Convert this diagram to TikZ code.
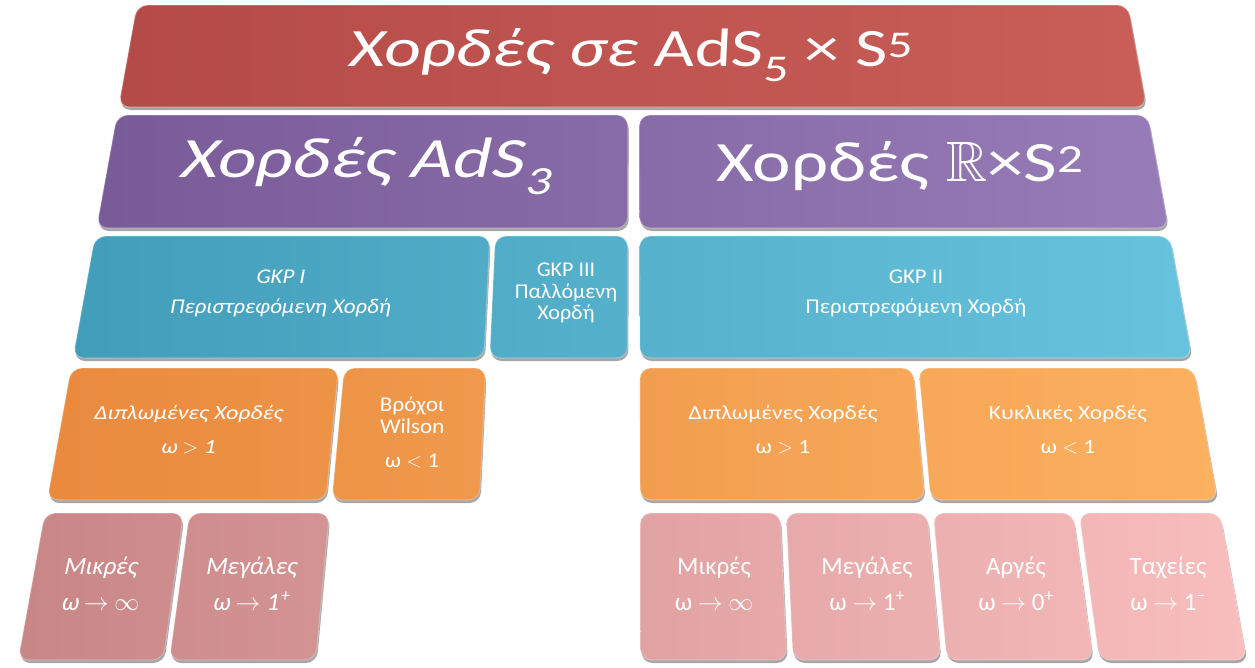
\documentclass[tikz,border=0pt]{standalone}
\usepackage{fontspec}
\usepackage{amssymb}
\setmainfont{Carlito}
\usetikzlibrary{shadows}
\definecolor{redL}{RGB}{178,72,70}
\definecolor{redR}{RGB}{204,96,90}
\definecolor{purL}{RGB}{116,86,146}
\definecolor{purR}{RGB}{154,128,188}
\definecolor{cyaL}{RGB}{60,152,180}
\definecolor{cyaR}{RGB}{108,200,226}
\definecolor{oraL}{RGB}{230,132,58}
\definecolor{oraR}{RGB}{254,182,100}
\definecolor{pinL}{RGB}{194,126,126}
\definecolor{pinR}{RGB}{254,196,196}
\newcommand\pp[2]{({632.5+((#1)-632.5)*(1+((#2)-5)*0.0003605)},{#2})}
\newcommand\pbox[5]{%
  \pgfmathtruncatemacro\fa{100*(1-(#1)/1255)}%
  \pgfmathtruncatemacro\fb{100*(1-(#2)/1255)}%
  \path[boxshape, left color=#5L!\fa!#5R, right color=#5L!\fb!#5R]
    \pp{#1}{#3} -- \pp{#2}{#3} -- \pp{#2}{#4} -- \pp{#1}{#4} -- cycle;
  \path[rounded corners=11pt, draw=white, draw opacity=0.25, line width=1.2pt]
    \pp{#1}{#3} -- \pp{#2}{#3} -- \pp{#2}{#4} -- \pp{#1}{#4} -- cycle;
}
\newcommand\fnt[3]{\fontsize{#1}{#2}\selectfont\addfontfeatures{#3}}
\tikzset{
  boxshape/.style={rounded corners=11pt,
    drop shadow={shadow xshift=1pt, shadow yshift=-3pt, opacity=0.35, fill=black}},
  lbl/.style={text=white, align=center, inner sep=0pt},
}
\begin{document}
\begin{tikzpicture}[x=1pt,y=-1pt]
\useasboundingbox (0,0) rectangle (1255,667);
% boxes
\pbox{137}{1128}{5}{107}{red}
\pbox{137}{628}{115}{228}{pur}
\pbox{639}{1128}{115}{228}{pur}
\pbox{137}{501}{236}{358}{cya}
\pbox{506}{628}{236}{358}{cya}
\pbox{639}{1128}{236}{358}{cya}
\pbox{137}{373}{368}{500}{ora}
\pbox{378}{503}{368}{500}{ora}
\pbox{639}{880}{368}{500}{ora}
\pbox{885}{1128}{368}{500}{ora}
\pbox{137}{254}{513}{660}{pin}
\pbox{259}{377}{513}{660}{pin}
\pbox{639}{757}{513}{660}{pin}
\pbox{762}{881}{513}{660}{pin}
\pbox{886}{1004}{513}{660}{pin}
\pbox{1009}{1128}{513}{660}{pin}
% labels
\node[lbl, font={\fnt{54}{60}{FakeStretch=1.3}}] (title) at (630,55) {{\addfontfeatures{FakeSlant=0.15}Χορδές σε }{\addfontfeatures{FakeSlant=0.05}AdS\textsubscript{5}} × S\textsuperscript{5}};
\node[lbl, font={\fnt{57}{64}{FakeStretch=1.28,FakeSlant=0.22}}] (ads) at (365,166) {Χορδές AdS\kern2pt\textsubscript{3}};
\node[lbl, font={\fnt{57}{64}{FakeStretch=1.28}}] (rs) at (900,166) {Χορδές $\mathbb{R}$×S\textsuperscript{2}};
\node[lbl, font={\fnt{21}{30}{FakeStretch=1.08,FakeSlant=0.18}}] (gkp1) at (280,293) {GKP I\\Περιστρεφόμενη Χορδή};
\node[lbl, font={\fnt{21}{21.5}{FakeStretch=1.05}}] (gkp3) at (566,293) {GKP III\\Παλλόμενη\\Χορδή};
\node[lbl, font={\fnt{21}{30}{FakeStretch=1.08}}] (gkp2) at (916,293) {GKP II\\Περιστρεφόμενη Χορδή};
\node[lbl, font={\fnt{20}{34}{FakeStretch=1.18,FakeSlant=0.2}}] (dipL) at (188,430) {Διπλωμένες Χορδές\\ω $>$ 1};
\node[lbl, font={\fnt{21}{22}{FakeStretch=1.1,FakeSlant=0.03}}] (wil) at (412,432) {Βρόχοι\\Wilson\\[12pt]ω $<$ 1};
\node[lbl, font={\fnt{20}{34}{FakeStretch=1.18}}] (dipR) at (783,430) {Διπλωμένες Χορδές\\ω $>$ 1};
\node[lbl, font={\fnt{20}{34}{FakeStretch=1.18}}] (kyk) at (1068,430) {Κυκλικές Χορδές\\ω $<$ 1};
\node[lbl, font={\fnt{25}{36}{FakeSlant=0.22}}] (mikL) at (100,584) {Μικρές\\ω $\rightarrow$ $\infty$};
\node[lbl, font={\fnt{25}{36}{FakeSlant=0.17}}] (megL) at (251,584) {Μεγάλες\\ω $\rightarrow$ 1\kern1.5pt\textsuperscript{+}};
\node[lbl, font={\fnt{25}{36}{FakeStretch=1.0}}] (mikR) at (714,584) {Μικρές\\ω $\rightarrow$ $\infty$};
\node[lbl, font={\fnt{25}{36}{FakeStretch=1.0}}] (megR) at (867,584) {Μεγάλες\\ω $\rightarrow$ 1\textsuperscript{+}};
\node[lbl, font={\fnt{25}{36}{FakeStretch=1.0}}] (arg) at (1016,584) {Αργές\\ω $\rightarrow$ 0\textsuperscript{+}};
\node[lbl, font={\fnt{25}{36}{FakeStretch=1.0}}] (tax) at (1168,584) {Ταχείες\\ω $\rightarrow$ 1\textsuperscript{−}};
\end{tikzpicture}
\end{document}
